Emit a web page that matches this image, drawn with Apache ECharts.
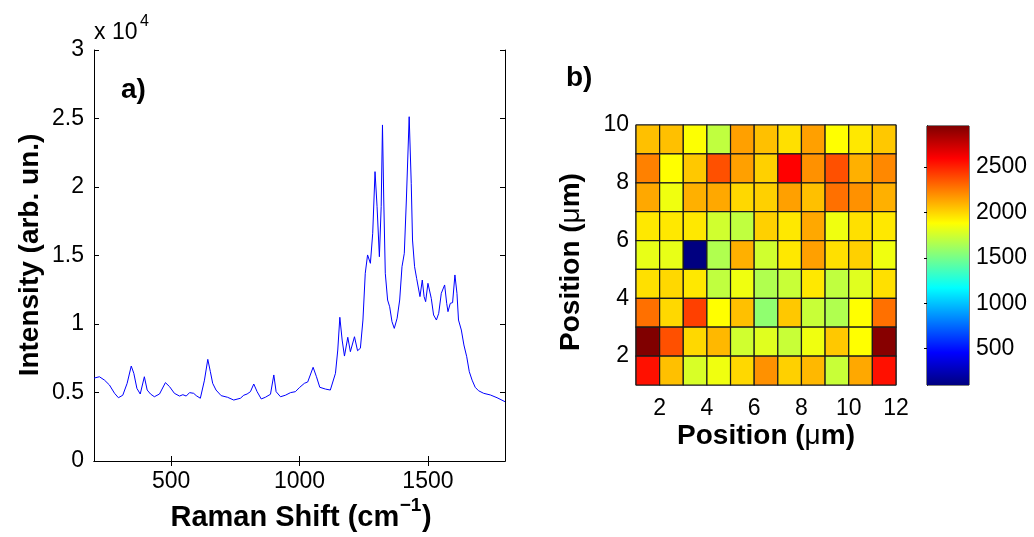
<!DOCTYPE html>
<html>
<head>
<meta charset="utf-8">
<script src="https://cdn.jsdelivr.net/npm/echarts@6/dist/echarts.min.js"></script>
<style>
  html, body { margin: 0; padding: 0; background: #fff; }
  #chart { width: 1034px; height: 537px; }
</style>
</head>
<body>
<div id="chart"></div>
<script>
// spectrum a): Raman shift (cm-1) and intensity (x 10^4)
const ramanShift = [200, 221, 241, 260, 280, 295, 312, 329, 345, 355, 367, 380, 396, 407, 420, 435, 455, 478, 494, 513,
  533, 546, 559, 572, 588, 598, 614, 630, 643, 653, 662, 675, 695, 720, 744, 751, 770, 783, 796, 809,
  822, 835, 851, 867, 887, 900, 909, 926, 945, 965, 984, 1001, 1019, 1032, 1053, 1066, 1079, 1101, 1120, 1140,
  1149, 1157, 1166, 1175, 1188, 1198, 1214, 1226, 1237, 1247, 1256, 1265, 1276, 1285, 1294, 1302, 1311, 1318, 1323, 1328,
  1334, 1343, 1351, 1360, 1369, 1380, 1390, 1399, 1408, 1416, 1427, 1435, 1440, 1448, 1456, 1460, 1469, 1478, 1485, 1491,
  1500, 1507, 1513, 1522, 1533, 1542, 1552, 1565, 1573, 1578, 1587, 1596, 1605, 1613, 1619, 1630, 1640, 1651, 1661, 1672,
  1684, 1697, 1717, 1743, 1769, 1800]
const intensity = [0.605, 0.615, 0.59, 0.555, 0.494, 0.462, 0.48, 0.567, 0.693, 0.64, 0.53, 0.489, 0.615, 0.518, 0.489, 0.469, 0.489, 0.572, 0.543, 0.494,
  0.474, 0.484, 0.474, 0.499, 0.494, 0.477, 0.458, 0.59, 0.742, 0.652, 0.567, 0.518, 0.477, 0.465, 0.445, 0.445, 0.458, 0.48, 0.489, 0.506,
  0.562, 0.506, 0.453, 0.465, 0.487, 0.628, 0.506, 0.469, 0.48, 0.499, 0.506, 0.538, 0.567, 0.577, 0.684, 0.615, 0.538, 0.525, 0.518, 0.64,
  0.81, 1.049, 0.883, 0.766, 0.903, 0.798, 0.907, 0.805, 0.823, 1.029, 1.37, 1.504, 1.443, 1.662, 2.112, 1.856, 1.491, 1.856, 2.453, 1.905,
  1.37, 1.175, 1.126, 1.017, 0.968, 1.042, 1.175, 1.418, 1.516, 1.905, 2.513, 2.027, 1.613, 1.418, 1.333, 1.333, 1.2, 1.321, 1.2, 1.163,
  1.297, 1.285, 1.187, 1.066, 1.029, 1.078, 1.224, 1.285, 1.151, 1.09, 1.151, 1.156, 1.358, 1.224, 1.029, 0.956, 0.847, 0.761, 0.652, 0.59,
  0.538, 0.513, 0.494, 0.482, 0.462, 0.433]
const shiftTicks = [500, 1000, 1500]

// map b): cell values, rows listed from top (y = 9) to bottom (y = 1), 11 columns (x = 1..11)
const mapRows = [
  [2057, 2057, 1875, 1705, 2147, 2057, 1968, 2147, 1881, 1946, 2035],
  [2236, 1881, 2035, 2370, 2147, 2013, 2594, 2191, 2370, 2102, 2214],
  [2124, 1839, 2102, 2124, 1990, 2013, 2147, 2057, 2281, 2191, 2102],
  [1946, 1946, 1946, 1750, 1705, 2013, 1946, 2124, 1839, 1968, 1946],
  [1817, 1817, 100, 1660, 2102, 1750, 1946, 2147, 1968, 2013, 1839],
  [1968, 1990, 1946, 1705, 1839, 1660, 1728, 1946, 1705, 1795, 1968],
  [2281, 1990, 2415, 1881, 2057, 1571, 2035, 1728, 1660, 1881, 2281],
  [2950, 2370, 1990, 2080, 1750, 1795, 1728, 1839, 2035, 1881, 2930],
  [2549, 2057, 1772, 1839, 1990, 2191, 2013, 2080, 1728, 2124, 2549]
]
const posXTicks = [2, 4, 6, 8, 10, 12]
const posYTicks = [2, 4, 6, 8, 10]
const colorMin = 100
const colorMax = 2950
const colorTicks = [500, 1000, 1500, 2000, 2500]

const jet = ['#000080', '#0000ff', '#0080ff', '#00ffff', '#80ff80', '#ffff00', '#ff8000', '#ff0000', '#800000']
const FONT = '"Liberation Sans", Arial, Helvetica, sans-serif'
const TICK_SIZE = 23
const TITLE_SIZE = 28

const lineData = ramanShift.map((w, i) => [w, intensity[i]])
const cellData = []
mapRows.forEach((row, r) => {
  const y = mapRows.length - r
  row.forEach((v, c) => cellData.push([c + 1, y, v]))
})

// measure the pieces of the x title so the superscript can sit after "cm"
const ctx = document.createElement('canvas').getContext('2d')
function textWidth(str, size, weight) {
  ctx.font = weight + ' ' + size + 'px ' + FONT
  return ctx.measureText(str).width
}
const ramanMain = 'Raman Shift (cm'
const ramanSup = '\u22121'
const ramanSize = 29
const supSize = 19
const wMain = textWidth(ramanMain, ramanSize, 'bold')
const wSup = textWidth(ramanSup, supSize, 'bold')
const wClose = textWidth(')', ramanSize, 'bold')
const ramanLeft = 301 - (wMain + wSup + 1 + wClose) / 2

const chart = echarts.init(document.getElementById('chart'))

const black = { color: '#000', width: 1 }
const labelStyle = { color: '#000', fontSize: TICK_SIZE, fontFamily: FONT, formatter: (v) => String(v) }

function titleText(x, y, text, extra) {
  return {
    type: 'text', x: x, y: y,
    style: Object.assign({ text: text, fontSize: TITLE_SIZE, fontWeight: 'bold', fontFamily: FONT, fill: '#000', verticalAlign: 'middle' }, extra || {})
  }
}

chart.setOption({
  backgroundColor: '#fff',
  animation: false,
  grid: [
    { left: 94, top: 50, width: 411, height: 411, outerBoundsMode: 'none' },
    { left: 636, top: 125, width: 260, height: 260, outerBoundsMode: 'none', show: true, borderColor: '#000', borderWidth: 1 },
    { left: 927, top: 126, width: 42, height: 259, outerBoundsMode: 'none', show: true, borderColor: '#000', borderWidth: 1 }
  ],
  xAxis: [
    {
      gridIndex: 0, type: 'value', min: 200, max: 1800, position: 'bottom',
      axisLine: { show: true, lineStyle: black },
      axisTick: { show: true, inside: true, length: 5, customValues: shiftTicks, lineStyle: black },
      axisLabel: { customValues: shiftTicks, margin: 9, ...labelStyle },
      splitLine: { show: false }
    },
    {
      gridIndex: 0, type: 'value', min: 200, max: 1800, position: 'top',
      axisLine: { show: true, lineStyle: black },
      axisTick: { show: true, inside: true, length: 5, customValues: shiftTicks, lineStyle: black },
      axisLabel: { show: false },
      splitLine: { show: false }
    },
    {
      gridIndex: 1, type: 'value', min: 1, max: 12,
      axisLine: { show: false },
      axisTick: { show: false },
      axisLabel: { customValues: posXTicks, margin: 12, ...labelStyle },
      splitLine: { show: false }
    },
    { gridIndex: 2, type: 'value', min: 0, max: 1, show: false }
  ],
  yAxis: [
    {
      gridIndex: 0, type: 'value', min: 0, max: 3, interval: 0.5, position: 'left',
      axisLine: { show: true, lineStyle: black },
      axisTick: { show: true, inside: true, length: 5, lineStyle: black },
      axisLabel: { margin: 10, ...labelStyle },
      splitLine: { show: false }
    },
    {
      gridIndex: 0, type: 'value', min: 0, max: 3, interval: 0.5, position: 'right',
      axisLine: { show: true, lineStyle: black },
      axisTick: { show: true, inside: true, length: 5, lineStyle: black },
      axisLabel: { show: false },
      splitLine: { show: false }
    },
    {
      gridIndex: 1, type: 'value', min: 1, max: 10,
      axisLine: { show: false },
      axisTick: { show: false },
      axisLabel: { customValues: posYTicks, margin: 7, ...labelStyle },
      splitLine: { show: false }
    },
    {
      gridIndex: 2, type: 'value', min: colorMin, max: colorMax, position: 'right',
      axisLine: { show: true, lineStyle: black },
      axisTick: { show: true, inside: true, length: 3, customValues: colorTicks, lineStyle: black },
      axisLabel: { customValues: colorTicks, margin: 7, ...labelStyle },
      splitLine: { show: false }
    },
    {
      gridIndex: 2, type: 'value', min: colorMin, max: colorMax, position: 'left',
      axisLine: { show: true, lineStyle: black },
      axisTick: { show: true, inside: true, length: 3, customValues: colorTicks, lineStyle: black },
      axisLabel: { show: false },
      splitLine: { show: false }
    }
  ],
  visualMap: {
    type: 'continuous', show: false, seriesIndex: 1, dimension: 2,
    min: colorMin, max: colorMax, inRange: { color: jet }
  },
  series: [
    {
      type: 'line', xAxisIndex: 0, yAxisIndex: 0, data: lineData,
      showSymbol: false, lineStyle: { color: '#0000ff', width: 1 }, itemStyle: { color: '#0000ff' }
    },
    {
      type: 'custom', xAxisIndex: 2, yAxisIndex: 2, data: cellData,
      encode: { x: 0, y: 1 },
      renderItem: function (params, api) {
        const x = api.value(0)
        const y = api.value(1)
        const p0 = api.coord([x, y + 1])
        const p1 = api.coord([x + 1, y])
        return {
          type: 'rect',
          shape: { x: p0[0], y: p0[1], width: p1[0] - p0[0], height: p1[1] - p0[1] },
          style: { fill: api.visual('color'), stroke: '#1a1a1a', lineWidth: 1.2 }
        }
      }
    },
    {
      type: 'custom', xAxisIndex: 3, yAxisIndex: 3, data: [[0, colorMin, colorMax]],
      renderItem: function (params, api) {
        const p0 = api.coord([0, api.value(2)])
        const p1 = api.coord([1, api.value(1)])
        const stops = jet.map((c, i) => ({ offset: i / (jet.length - 1), color: c }))
        return {
          type: 'rect',
          shape: { x: p0[0], y: p0[1], width: p1[0] - p0[0], height: p1[1] - p0[1] },
          style: { fill: new echarts.graphic.LinearGradient(0, 1, 0, 0, stops) }
        }
      }
    }
  ],
  graphic: [
    { type: 'text', x: 94, y: 33, style: { text: 'x 10', fontSize: TICK_SIZE, fontFamily: FONT, fill: '#000', verticalAlign: 'middle' } },
    { type: 'text', x: 140, y: 22, style: { text: '4', fontSize: 16, fontFamily: FONT, fill: '#000', verticalAlign: 'middle' } },
    titleText(121, 90, 'a)'),
    titleText(566, 78, 'b)'),
    Object.assign(titleText(30, 255, 'Intensity (arb. un.)', { align: 'center' }), { rotation: Math.PI / 2 }),
    titleText(ramanLeft, 518, ramanMain, { fontSize: ramanSize }),
    { type: 'text', x: ramanLeft + wMain + 0.5, y: 506, style: { text: ramanSup, fontSize: supSize, fontWeight: 'bold', fontFamily: FONT, fill: '#000', verticalAlign: 'middle' } },
    titleText(ramanLeft + wMain + wSup + 1, 518, ')', { fontSize: ramanSize }),
    titleText(766, 436, 'Position ({mu|\u03bc}m)', {
      align: 'center',
      rich: { mu: { fontSize: TITLE_SIZE, fontWeight: 'normal', fontFamily: FONT } }
    }),
    Object.assign(titleText(571, 262, 'Position ({mu|\u03bc}m)', {
      align: 'center',
      rich: { mu: { fontSize: TITLE_SIZE, fontWeight: 'normal', fontFamily: FONT } }
    }), { rotation: Math.PI / 2 })
  ]
})
</script>
</body>
</html>
